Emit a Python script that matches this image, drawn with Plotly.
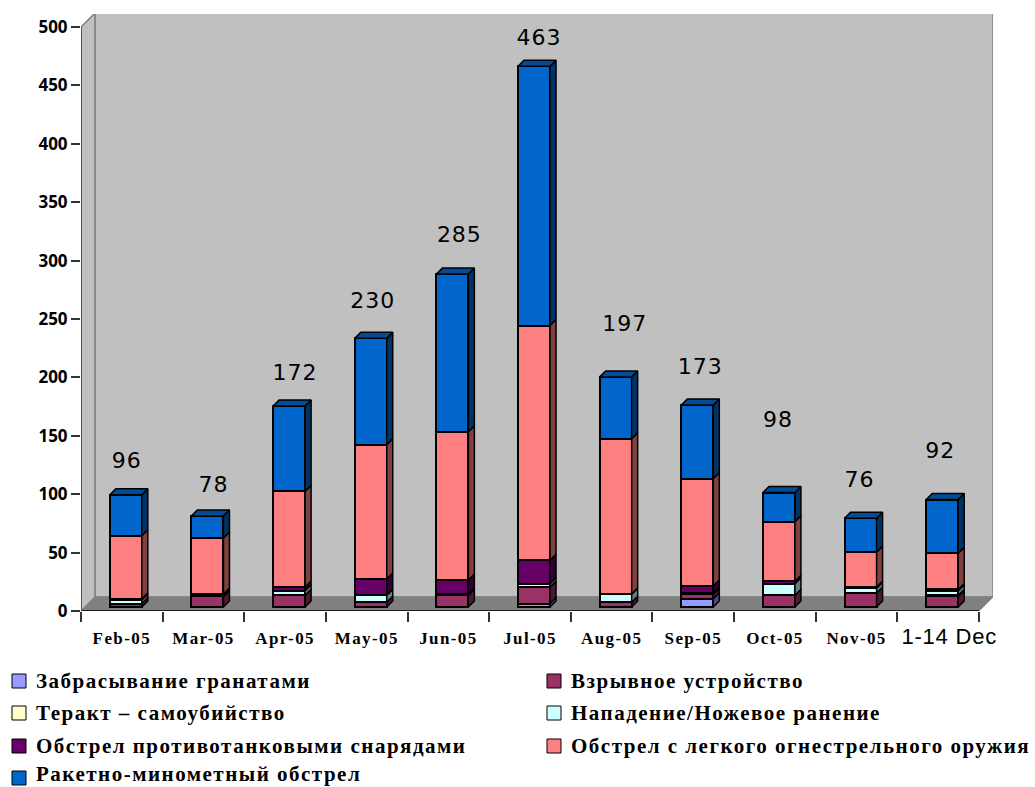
import plotly.graph_objects as go

months = ["Feb-05", "Mar-05", "Apr-05", "May-05", "Jun-05", "Jul-05", "Aug-05", "Sep-05", "Oct-05", "Nov-05", "1-14 Dec"]
totals = [96, 78, 172, 230, 285, 463, 197, 173, 98, 76, 92]

grenade = [0, 0, 0, 0, 0, 3, 0, 7, 0, 0, 0]
ied = [3, 9, 10, 4, 10, 14, 4, 4, 10, 12, 9]
suicide = [0, 0, 0, 0, 1, 0, 0, 1, 0, 0, 1]
attack = [3, 0, 4, 6, 0, 3, 7, 0, 10, 4, 4]
atgm = [1, 2, 3, 14, 12, 20, 0, 6, 2, 1, 1]
small_arms = [54, 48, 82, 115, 127, 201, 133, 92, 51, 30, 31]
rockets = [35, 19, 73, 91, 135, 222, 53, 63, 25, 29, 46]

names = ["Забрасывание гранатами", "Взрывное устройство", "Теракт – самоубийство",
         "Нападение/Ножевое ранение", "Обстрел противотанковыми снарядами",
         "Обстрел с легкого огнестрельного оружия", "Ракетно-минометный обстрел"]
series = [grenade, ied, suicide, attack, atgm, small_arms, rockets]
front = ["#9999FF", "#993366", "#FFFFCC", "#CCFFFF", "#660066", "#FF8080", "#0066CC"]
side = ["#4C4C80", "#4C1933", "#808066", "#668080", "#330033", "#804040", "#003366"]
top_color = "#004C99"

yticks = [0, 50, 100, 150, 200, 250, 300, 350, 400, 450, 500]

# label offsets from the bar's top, in pixels (dx right, dy up)
label_dx = [1, 6, 6, 2, 7, 5, 9, 3, -1, -1, -2]
label_dy = [32, 29, 32, 36, 38, 27, 51, 36, 71, 37, 47]

# geometry in pixels
L, R, T, B = 81, 993, 14, 611
CAT = 81.64
UNIT = 1.168
DEPTH = 14
SHIFT = 4
BAR = 32
D = 6
xu = lambda p: p / CAT
yu = lambda p: p / UNIT
xmax = (R - L) / CAT
ymax = (B - T) / UNIT
n = len(months)
centers = [i + 0.5 + xu(SHIFT) for i in range(n)]
half = xu(BAR) / 2

fig = go.Figure()
for name, vals, col in zip(names, series, front):
    fig.add_trace(go.Bar(x=centers, y=vals, name=name, width=xu(BAR), yaxis="y2",
                         marker=dict(color=col, line=dict(color="black", width=2)),
                         hoverinfo="skip", showlegend=False))

lower = [0] * n
for name, vals, col in zip(names, series, side):
    xs, ys = [], []
    for i, v in enumerate(vals):
        if v:
            xr = centers[i] + half
            xs += [xr, xr + xu(D), xr + xu(D), xr, xr, None]
            ys += [lower[i], lower[i] + yu(D), lower[i] + v + yu(D), lower[i] + v, lower[i], None]
    fig.add_trace(go.Scatter(x=xs, y=ys, mode="lines", fill="toself", fillcolor=col, yaxis="y2",
                             line=dict(color="black", width=1.5), hoverinfo="skip", showlegend=False))
    lower = [a + b for a, b in zip(lower, vals)]

xs, ys = [], []
for i, h in enumerate(lower):
    xl, xr = centers[i] - half, centers[i] + half
    xs += [xl, xl + xu(D), xr + xu(D), xr, xl, None]
    ys += [h, h + yu(D), h + yu(D), h, h, None]
fig.add_trace(go.Scatter(x=xs, y=ys, mode="lines", fill="toself", fillcolor=top_color, yaxis="y2",
                         line=dict(color="black", width=1.5), hoverinfo="skip", showlegend=False))

fig.add_trace(go.Scatter(x=[c + xu(d) for c, d in zip(centers, label_dx)],
                         y=[h + yu(d) for h, d in zip(lower, label_dy)],
                         text=[f'<span style="letter-spacing:1px">{t}</span>' for t in totals],
                         mode="text", yaxis="y2",
                         textposition="middle center", cliponaxis=False,
                         textfont=dict(family="DejaVu Sans", size=22, color="black"),
                         hoverinfo="skip", showlegend=False))

dx, dy = xu(DEPTH), yu(DEPTH)
ytop = 500
shapes = [
    dict(type="rect", x0=dx, x1=n + dx, y0=dy, y1=ytop + dy, fillcolor="#C0C0C0",
         line=dict(color="#808080", width=1.5)),
    dict(type="path", path=f"M 0 0 L {dx} {dy} L {dx} {ytop + dy} L 0 {ytop} Z", fillcolor="#C0C0C0",
         line=dict(color="#808080", width=1.5)),
    dict(type="path", path=f"M 0 0 L {dx} {dy} L {n + dx} {dy} L {n} 0 Z", fillcolor="#808080",
         line=dict(color="#808080", width=1)),
]
shapes = [dict(s, xref="x", yref="y", layer="below") for s in shapes]
shapes += [
    dict(type="line", xref="x", yref="y", x0=0, x1=n, y0=0, y1=0, line=dict(color="black", width=1.5), layer="below"),
    dict(type="line", xref="x", yref="y", x0=0, x1=0, y0=0, y1=ytop, line=dict(color="#404040", width=1.5), layer="below"),
]

# legend, laid out in two columns as in the picture
annotations = []
col_x = [(12, 34), (547, 569)]
swatch_y = [681, 713, 746, 778]
text_y = [681, 713, 746, 774]
W, H = 1035, 787
for k, (name, col) in enumerate(zip(names, front)):
    sx, tx = col_x[k % 2]
    cy = swatch_y[k // 2]
    shapes.append(dict(type="rect", xref="paper", yref="paper",
                       x0=(sx - L) / (R - L), x1=(sx + 14 - L) / (R - L),
                       y0=(B - cy - 7) / (B - T), y1=(B - cy + 7) / (B - T),
                       fillcolor=col, line=dict(color="black", width=1)))
    annotations.append(dict(xref="paper", yref="paper", x=(tx - L) / (R - L), y=(B - text_y[k // 2]) / (B - T),
                            text=f'<b><span style="letter-spacing:1.5px">{name}</span></b>',
                            showarrow=False, xanchor="left", yanchor="middle",
                            font=dict(family="Liberation Serif", size=21, color="black")))

ticktext = [f'<span style="letter-spacing:1.4px">{m}</span>' for m in months[:-1]]
ticktext.append('<span style="font-family:Liberation Sans;font-size:22px;font-weight:normal;letter-spacing:0.8px">'
                + months[-1] + '</span>')
tickpos = [i + 0.5 for i in range(n - 1)] + [n - 0.5 + xu(11)]

fig.update_layout(
    width=W, height=H, margin=dict(l=L, r=W - R, t=T, b=H - B, autoexpand=False),
    paper_bgcolor="white", plot_bgcolor="white", barmode="stack", bargap=0,
    shapes=shapes, annotations=annotations, showlegend=False,
    xaxis=dict(range=[0, xmax], tickvals=tickpos, ticktext=ticktext, ticks="",
               showgrid=False, zeroline=False, showline=False, tickangle=0, ticklabelstandoff=15,
               tickfont=dict(family="Liberation Serif", size=17, color="black", weight="bold"),
               minor=dict(tickvals=list(range(n + 1)), ticks="outside", ticklen=10, tickwidth=1.5,
                          tickcolor="#333333", showgrid=False)),
    yaxis=dict(range=[0, ymax], tickvals=yticks, ticks="outside", ticklen=9, tickwidth=1.5, tickcolor="#333333",
               showgrid=False, zeroline=False, showline=False,
               tickfont=dict(family="Open Sans", size=17, color="black", weight="bold")),
    yaxis2=dict(range=[-yu(SHIFT), ymax - yu(SHIFT)], overlaying="y", visible=False),
)

fig.write_html("out.html", post_script="document.body.style.margin='0';",
               config={"displayModeBar": False})
